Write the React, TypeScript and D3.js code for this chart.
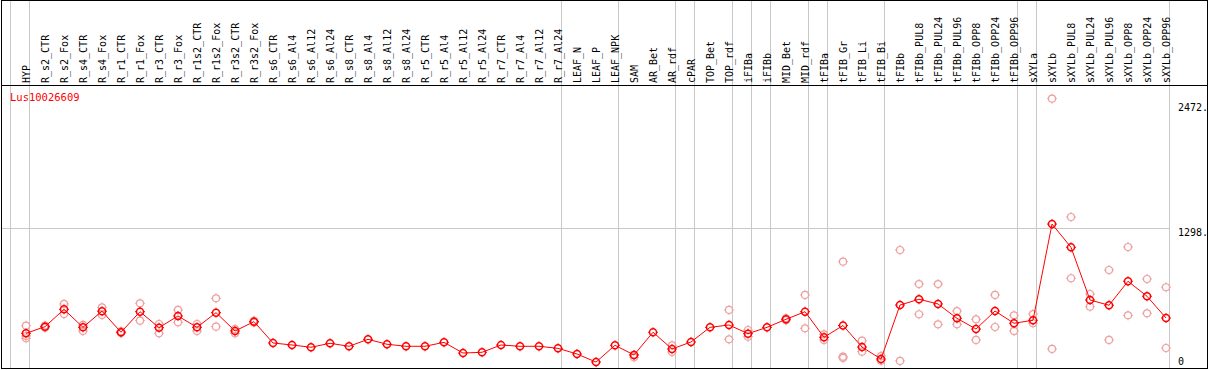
import React from "react";
import * as d3 from "d3";

const categories = [
  "HYP", "R_s2_CTR", "R_s2_Fox", "R_s4_CTR", "R_s4_Fox", "R_r1_CTR", "R_r1_Fox", "R_r3_CTR", "R_r3_Fox",
  "R_r1s2_CTR", "R_r1s2_Fox", "R_r3s2_CTR", "R_r3s2_Fox", "R_s6_CTR", "R_s6_Al4", "R_s6_Al12", "R_s6_Al24",
  "R_s8_CTR", "R_s8_Al4", "R_s8_Al12", "R_s8_Al24", "R_r5_CTR", "R_r5_Al4", "R_r5_Al12", "R_r5_Al24",
  "R_r7_CTR", "R_r7_Al4", "R_r7_Al12", "R_r7_Al24", "LEAF_N", "LEAF_P", "LEAF_NPK", "SAM", "AR_Bet", "AR_rdf",
  "cPAR", "TOP_Bet", "TOP_rdf", "iFIBa", "iFIBb", "MID_Bet", "MID_rdf", "tFIBa", "tFIB_Gr", "tFIB_Li", "tFIB_Bi",
  "tFIBb", "tFIBb_PUL8", "tFIBb_PUL24", "tFIBb_PUL96", "tFIBb_OPP8", "tFIBb_OPP24", "tFIBb_OPP96",
  "sXYLa", "sXYLb", "sXYLb_PUL8", "sXYLb_PUL24", "sXYLb_PUL96", "sXYLb_OPP8", "sXYLb_OPP24", "sXYLb_OPP96",
];

// number of samples in each tissue group (group separators are drawn between groups)
const groupSizes = [1, 28, 3, 3, 1, 2, 1, 1, 2, 1, 3, 7, 1, 7];

const meanValues = [
  318, 380, 542, 374, 525, 328, 520, 371, 480, 374, 511, 340, 427, 228, 209, 188, 225,
  197, 262, 216, 197, 197, 234, 134, 141, 209, 197, 197, 178, 125, 50, 206, 116, 328, 172,
  237, 374, 396, 315, 374, 449, 520, 281, 391, 190, 78,
  582, 636, 592, 458, 358, 526, 412,
  440, 1338, 1121, 629, 580, 804, 664, 461,
];

const replicateValues: number[][] = [
  [389, 293, 272], [370, 390], [592, 498], [396, 340], [560, 490], [320, 336], [598, 436], [405, 318], [536, 421],
  [405, 340], [645, 380], [318, 358], [420, 434], [], [], [], [],
  [], [], [], [], [], [], [], [],
  [], [], [], [], [], [], [], [94, 116], [], [206, 144],
  [], [], [536, 262], [349, 287], [], [440, 458], [676, 365], [309, 256], [987, 100, 88], [249, 147], [106, 63],
  [1096, 60], [778, 496], [778, 402], [526, 402], [449, 256], [676, 377], [486, 340],
  [498, 412], [2508, 172], [1404, 832], [685, 567], [909, 256], [1124, 486], [825, 505], [748, 181],
];

const geneName = "Lus10026609";
const tickValues = [2472.5, 1298.1, 0];
const tickLabels = ["2472.", "1298.", "0"];
const gridValues = [1298.1];

const W = 1209;
const H = 370;
const FONT = "'DejaVu Sans Mono', 'Liberation Mono', monospace";
const RED = "#ff0000";
const PINK = "#eea0a0";
const GRAY = "#c8c8c8";

function Marker({ x, y, color, sw }: { x: number; y: number; color: string; sw: number }) {
  const r = 3.5;
  return (
    <g stroke={color} fill="none">
      <circle cx={x} cy={y} r={r} strokeWidth={sw} />
      <line x1={x} x2={x} y1={y - r - 1.5} y2={y - r} strokeWidth={1} />
      <line x1={x} x2={x} y1={y + r} y2={y + r + 1.5} strokeWidth={1} />
      <line x1={x - r - 1.5} x2={x - r} y1={y} y2={y} strokeWidth={1} />
      <line x1={x + r} x2={x + r + 1.5} y1={y} y2={y} strokeWidth={1} />
    </g>
  );
}

export default function App() {
  const plotLeft = 11;
  const plotRight = 1170;
  const headerY = 85.5;
  const x = d3.scaleBand<string>().domain(categories).range([plotLeft, plotRight]).padding(0);
  const bw = x.bandwidth();
  const px = (c: string) => (x(c) as number) + bw * 0.79;
  const y = d3.scaleLinear().domain([0, 2472.5]).range([367.4, 102.5]);

  // group boundaries
  const bounds: number[] = [0];
  let acc = 0;
  for (const g of groupSizes) {
    acc += g;
    bounds.push(acc);
  }
  const boundX = (i: number) => (i >= categories.length ? plotRight : (x(categories[i]) as number));

  const line = d3
    .line<number>()
    .x((_, i) => px(categories[i]))
    .y((v) => y(v));

  return (
    <div>
      <style>{`body{margin:0}`}</style>
      <svg width={W} height={H} style={{ display: "block", background: "#fff" }}>
        <rect x={0} y={0} width={W} height={H} fill="#fff" />
        {/* vertical group separators */}
        {bounds.map((b, i) => (
          <line key={"b" + i} x1={Math.round(boundX(b)) - 0.5} x2={Math.round(boundX(b)) - 0.5} y1={0} y2={369} stroke={GRAY} strokeWidth={1} />
        ))}
        {/* horizontal grid */}
        {gridValues.map((v, i) => (
          <line key={"g" + i} x1={1} x2={plotRight} y1={Math.round(y(v)) + 0.5} y2={Math.round(y(v)) + 0.5} stroke={GRAY} strokeWidth={1} />
        ))}
        {/* header line */}
        <line x1={1} x2={1208} y1={headerY} y2={headerY} stroke="#000" strokeWidth={1} />
        {/* outer border */}
        <rect x={1.5} y={0.5} width={1206} height={368} fill="none" stroke="#000" strokeWidth={1} />
        {/* sample labels */}
        {categories.map((c) => (
          <text
            key={"l" + c}
            transform={`translate(${(x(c) as number) + bw - 0.5},83) rotate(-90)`}
            fontFamily={FONT}
            fontSize={10}
            fill="#000"
          >
            {c}
          </text>
        ))}
        {/* gene name */}
        <text x={10} y={101} fontFamily={FONT} fontSize={10.5} fill={RED}>
          {geneName}
        </text>
        {/* y tick labels */}
        {tickValues.map((v, i) => (
          <text
            key={"t" + i}
            x={1178}
            y={v === 0 ? y(v) - 2 : y(v) + 8}
            fontFamily={FONT}
            fontSize={10}
            fill="#000"
          >
            {tickLabels[i]}
          </text>
        ))}
        {/* replicates */}
        {replicateValues.map((reps, i) =>
          reps.map((v, j) => <Marker key={`r${i}-${j}`} x={px(categories[i])} y={y(v)} color={PINK} sw={1.2} />)
        )}
        {/* mean line */}
        <path d={line(meanValues) || ""} fill="none" stroke={RED} strokeWidth={1} />
        {meanValues.map((v, i) => (
          <Marker key={"m" + i} x={px(categories[i])} y={y(v)} color={RED} sw={1.5} />
        ))}
      </svg>
    </div>
  );
}
